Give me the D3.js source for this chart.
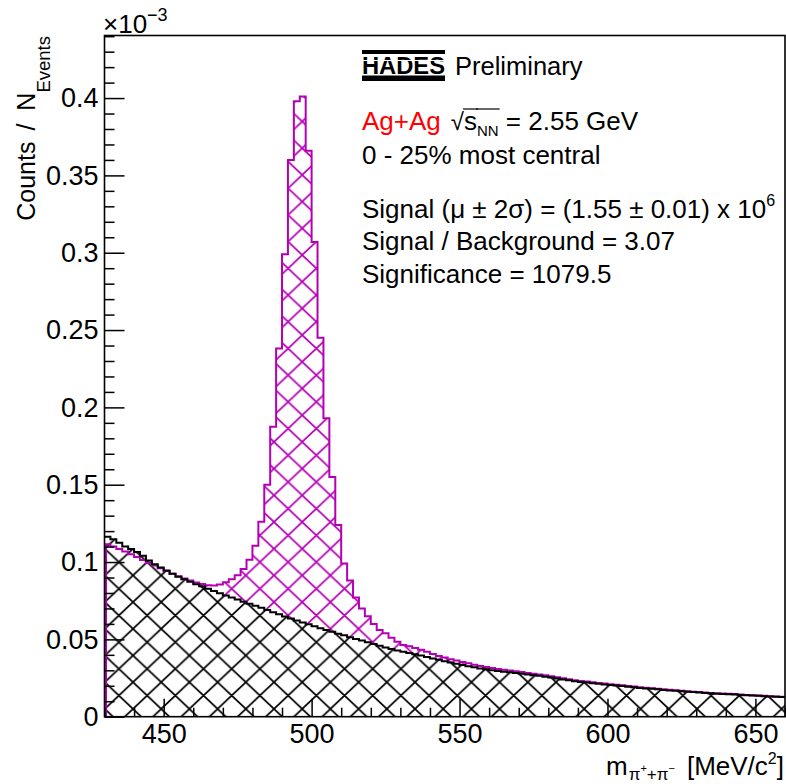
<!DOCTYPE html>
<html>
<head>
<meta charset="utf-8">
<script src="https://cdn.jsdelivr.net/npm/d3@7"></script>
<style>
  body { margin: 0; background: #fff; }
  svg { display: block; font-family: "Liberation Sans", Arial, Helvetica, sans-serif; }
  text { white-space: pre; }
</style>
</head>
<body>
<svg id="chart" width="786" height="784"></svg>
<script>
// histogram binning (MeV/c^2)
const xMin = 430
const xMax = 660
const binWidth = 2

// background (black), counts / N_events in units of 1e-3, one value per 2 MeV bin
const background = [
  0.1164, 0.1147, 0.1125, 0.1100, 0.1085, 0.1065, 0.1040, 0.1010, 0.0985, 0.0965,
  0.0945, 0.0925, 0.0905, 0.0888, 0.0872, 0.0857, 0.0843, 0.0828, 0.0813, 0.0799,
  0.0784, 0.0770, 0.0757, 0.0744, 0.0731, 0.0718, 0.0704, 0.0690, 0.0676, 0.0662,
  0.0648, 0.0635, 0.0622, 0.0609, 0.0597, 0.0585, 0.0572, 0.0560, 0.0549, 0.0537,
  0.0526, 0.0514, 0.0503, 0.0492, 0.0481, 0.0470, 0.0458, 0.0447, 0.0437, 0.0428,
  0.0420, 0.0412, 0.0404, 0.0395, 0.0386, 0.0377, 0.0368, 0.0359, 0.0350, 0.0342,
  0.0334, 0.0326, 0.0319, 0.0312, 0.0306, 0.0301, 0.0296, 0.0291, 0.0287, 0.0283,
  0.0278, 0.0273, 0.0268, 0.0264, 0.0259, 0.0253, 0.0247, 0.0241, 0.0235, 0.0229,
  0.0225, 0.0221, 0.0217, 0.0213, 0.0209, 0.0205, 0.0202, 0.0198, 0.0194, 0.0190,
  0.0186, 0.0183, 0.0180, 0.0177, 0.0173, 0.0170, 0.0167, 0.0165, 0.0162, 0.0159,
  0.0156, 0.0154, 0.0151, 0.0149, 0.0147, 0.0145, 0.0143, 0.0141, 0.0139, 0.0137,
  0.0135, 0.0133, 0.0131, 0.0129, 0.0127
]

// signal + background (magenta)
const total = [
  0.1115, 0.1100, 0.1085, 0.1068, 0.1050, 0.1033, 0.1013, 0.0995, 0.0978, 0.0960,
  0.0942, 0.0925, 0.0908, 0.0893, 0.0880, 0.0868, 0.0858, 0.0850, 0.0848, 0.0855,
  0.0870, 0.0888, 0.0915, 0.0955, 0.1015, 0.1105, 0.1260, 0.1500, 0.1875, 0.2380,
  0.2990, 0.3600, 0.3980, 0.4010, 0.3660, 0.3070, 0.2450, 0.1930, 0.1550, 0.1240,
  0.0990, 0.0880, 0.0770, 0.0700, 0.0650, 0.0600, 0.0560, 0.0539, 0.0510, 0.0485,
  0.0464, 0.0455, 0.0445, 0.0433, 0.0420, 0.0405, 0.0393, 0.0382, 0.0372, 0.0363,
  0.0354, 0.0345, 0.0336, 0.0328, 0.0321, 0.0315, 0.0309, 0.0303, 0.0298, 0.0294,
  0.0289, 0.0283, 0.0277, 0.0273, 0.0268, 0.0261, 0.0255, 0.0249, 0.0242, 0.0236,
  0.0231, 0.0227, 0.0223, 0.0218, 0.0214, 0.0210, 0.0207, 0.0203, 0.0199, 0.0195,
  0.0190, 0.0187, 0.0184, 0.0181, 0.0177, 0.0174, 0.0171, 0.0168, 0.0165, 0.0162,
  0.0159, 0.0157, 0.0154, 0.0152, 0.0150, 0.0148, 0.0146, 0.0144, 0.0141, 0.0139,
  0.0137, 0.0135, 0.0133, 0.0131, 0.0129
]

const xTicks = [450, 500, 550, 600, 650]
const xTickLabels = ['450', '500', '550', '600', '650']
const yTicks = [0, 0.05, 0.1, 0.15, 0.2, 0.25, 0.3, 0.35, 0.4]
const yTickLabels = ['0', '0.05', '0.1', '0.15', '0.2', '0.25', '0.3', '0.35', '0.4']

const magenta = '#b400b4'
const fontSize = 27
const legendSize = 26

const svg = d3.select('#chart')

const x = d3.scaleLinear().domain([xMin, xMax]).range([104.5, 785])
const y = d3.scaleLinear().domain([0, 0.44]).range([716.7, 36.2])

// hatch patterns, same grid for both so black covers magenta exactly
const defs = svg.append('defs')
function hatch (id, color, bg) {
  const w = 28.2
  const h = 26.7
  const p = defs.append('pattern')
    .attr('id', id)
    .attr('patternUnits', 'userSpaceOnUse')
    .attr('x', 302.2).attr('y', 228.3)
    .attr('width', w).attr('height', h)
  if (bg) p.append('rect').attr('width', w).attr('height', h).attr('fill', bg)
  let d = ''
  for (let i = -1; i <= 1; i++) {
    for (let j = -1; j <= 1; j++) {
      d += `M${i * w},${j * h}L${(i + 1) * w},${(j + 1) * h}`
      d += `M${i * w},${(j + 1) * h}L${(i + 1) * w},${j * h}`
    }
  }
  p.append('path').attr('d', d).attr('stroke', color).attr('stroke-width', 1.7).attr('fill', 'none')
}
hatch('hatchM', magenta, null)
hatch('hatchK', '#000', '#fff')

// bins -> step points (extra point closes the last bin)
const toPoints = vals => vals.map((v, i) => ({ lo: xMin + i * binWidth, v }))
  .concat([{ lo: xMax, v: vals[vals.length - 1] }])

const area = d3.area().curve(d3.curveStepAfter)
  .x(d => x(d.lo)).y0(y(0)).y1(d => y(d.v))
const line = d3.line().curve(d3.curveStepAfter)
  .x(d => x(d.lo)).y(d => y(d.v))

const totPts = toPoints(total)
const bkgPts = toPoints(background)

const plot = svg.append('g')

plot.append('path').attr('d', area(totPts)).attr('fill', 'url(#hatchM)')
plot.append('path').attr('d', area(bkgPts)).attr('fill', 'url(#hatchK)')

// magenta outline incl. the vertical edge at the left border
plot.append('path')
  .attr('d', `M${x(xMin) + 1.5},${y(0)}L${x(xMin) + 1.5},${y(total[0])}` + line(totPts).replace(/^M[^L]*/, 'L' + x(xMin) + ',' + y(total[0])))
  .attr('fill', 'none').attr('stroke', magenta).attr('stroke-width', 2)

plot.append('path').attr('d', line(bkgPts))
  .attr('fill', 'none').attr('stroke', '#000').attr('stroke-width', 2)

// axes
const minorX = d3.range(xMin, xMax + 1, 10).filter(v => v % 50 !== 0)
const minorY = d3.range(0, 45, 1).map(v => v / 100).filter((v, i) => i % 5 !== 0)

const axisStyle = g => {
  g.select('.domain').remove()
  g.attr('font-family', null)
  g.selectAll('line').attr('stroke', '#000').attr('stroke-width', 1.5)
  g.selectAll('text').style('font-size', fontSize + 'px').attr('fill', '#000')
}

svg.append('g').attr('transform', `translate(0,${y(0)})`)
  .call(d3.axisBottom(x).tickValues(xTicks).tickSizeInner(-18).tickSizeOuter(0).tickPadding(7)
    .tickFormat((d, i) => xTickLabels[i]))
  .call(axisStyle)

svg.append('g').attr('transform', `translate(0,${y(0)})`)
  .call(d3.axisBottom(x).tickValues(minorX).tickSizeInner(-9).tickSizeOuter(0).tickFormat(''))
  .call(axisStyle)

svg.append('g').attr('transform', `translate(${x(xMin)},0)`)
  .call(d3.axisLeft(y).tickValues(yTicks).tickSizeInner(-20).tickSizeOuter(0).tickPadding(6)
    .tickFormat((d, i) => yTickLabels[i]))
  .call(axisStyle)

svg.append('g').attr('transform', `translate(${x(xMin)},0)`)
  .call(d3.axisLeft(y).tickValues(minorY).tickSizeInner(-10).tickSizeOuter(0).tickFormat(''))
  .call(axisStyle)

// frame
svg.append('rect')
  .attr('x', x(xMin)).attr('y', 35.5)
  .attr('width', x(xMax) - x(xMin)).attr('height', y(0) - 35.5)
  .attr('fill', 'none').attr('stroke', '#000').attr('stroke-width', 1.6)

// text made of pieces (sub/superscripts, overlines)
function richText (parent, parts, anchor) {
  const g = parent.append('g')
  let cx = 0
  parts.forEach(p => {
    const t = g.append('text')
      .attr('x', cx).attr('y', p.dy || 0)
      .style('font-size', p.size + 'px')
      .attr('fill', p.fill || '#000')
      .text(p.t)
    const w = t.node().getComputedTextLength()
    if (p.over !== undefined) {
      g.append('line')
        .attr('x1', cx - 1).attr('x2', cx + w + 1)
        .attr('y1', p.over).attr('y2', p.over)
        .attr('stroke', '#000').attr('stroke-width', 1.2)
    }
    cx += w + (p.gap || 0)
  })
  if (anchor === 'end') g.selectAll('*').each(function () {
    const s = d3.select(this)
    if (this.tagName === 'text') s.attr('x', +s.attr('x') - cx)
    else s.attr('x1', +s.attr('x1') - cx).attr('x2', +s.attr('x2') - cx)
  })
  return g
}

// x10^-3
richText(svg, [
  { t: '\u00d710', size: 26 },
  { t: '\u22123', size: 18, dy: -12 }
]).attr('transform', 'translate(103,32.5)')

// y title
richText(svg, [
  { t: 'Counts', size: 25, gap: 11 },
  { t: '/', size: 25, gap: 13 },
  { t: 'N', size: 25 },
  { t: 'Events', size: 18.5, dy: 15 }
], 'end').attr('transform', 'translate(35,36) rotate(-90)')

// x title
richText(svg, [
  { t: 'm', size: 26, gap: 1 },
  { t: '\u03c0', size: 17, dy: 5 },
  { t: '+', size: 11, dy: -3 },
  { t: '+', size: 17, dy: 5 },
  { t: '\u03c0', size: 17, dy: 5 },
  { t: '\u2212', size: 11, dy: -3, gap: 12 },
  { t: '[MeV/c', size: 26 },
  { t: '2', size: 16, dy: -11 },
  { t: ']', size: 26 }
], 'end').attr('transform', 'translate(784,775)')

// legend block
const lx = 362
const leg = svg.append('g')

leg.append('rect').attr('x', lx).attr('y', 50).attr('width', 83).attr('height', 4).attr('fill', '#000')
leg.append('text')
  .attr('x', lx).attr('y', 73.5)
  .attr('textLength', 83).attr('lengthAdjust', 'spacingAndGlyphs')
  .style('font-size', '23px').style('font-weight', 'bold')
  .text('HADES')
leg.append('line').attr('x1', lx).attr('x2', lx + 83).attr('y1', 60.5).attr('y2', 60.5)
  .attr('stroke', '#fff').attr('stroke-width', 1.2)
leg.append('rect').attr('x', lx).attr('y', 75.5).attr('width', 83).attr('height', 5.5).attr('fill', '#000')
leg.append('text').attr('x', 455).attr('y', 74.5).style('font-size', '25.5px').text('Preliminary')

richText(leg, [
  { t: 'Ag+Ag', size: legendSize, fill: '#ff0000', gap: 10 },
  { t: '\u221a', size: 24 },
  { t: 's', size: legendSize, over: -21 },
  { t: 'NN', size: 15, dy: 6, over: -21 },
  { t: ' = 2.55 GeV', size: legendSize }
]).attr('transform', `translate(${lx},130)`)

leg.append('text').attr('x', lx).attr('y', 163.5).style('font-size', legendSize + 'px').text('0 - 25% most central')

richText(leg, [
  { t: 'Signal (\u03bc \u00b1 2\u03c3) = (1.55 \u00b1 0.01) x 10', size: legendSize },
  { t: '6', size: 16, dy: -12 }
]).attr('transform', `translate(${lx},217.5)`)

leg.append('text').attr('x', lx).attr('y', 250).style('font-size', legendSize + 'px').text('Signal / Background = 3.07')
leg.append('text').attr('x', lx).attr('y', 282.5).style('font-size', legendSize + 'px').text('Significance = 1079.5')
</script>
</body>
</html>
